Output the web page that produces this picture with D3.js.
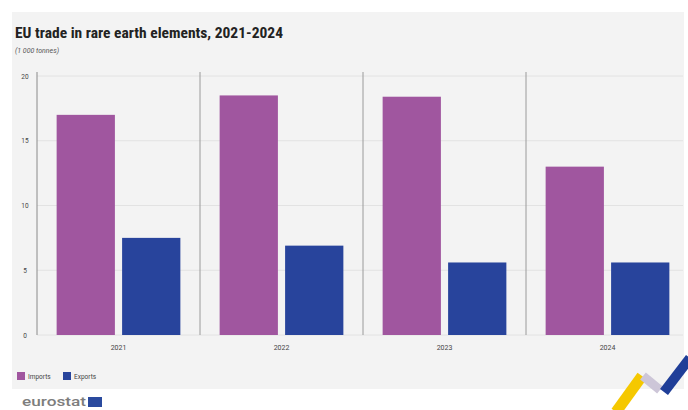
<!DOCTYPE html>
<html><head><meta charset="utf-8">
<script src="https://cdn.jsdelivr.net/npm/d3@7"></script>
<style>body{margin:0;background:#fff}svg{display:block}</style>
</head><body><svg id="c" width="688" height="410"></svg>
<script>
const years = ["2021", "2022", "2023", "2024"];
const seriesNames = ["Imports", "Exports"];
const imports = [17.0, 18.5, 18.4, 13.0];
const exports = [7.5, 6.9, 5.6, 5.6];
const yTicks = [0, 5, 10, 15, 20];
const colors = ["#a0569f", "#28449c"];

const svg = d3.select("#c");
svg.append("rect").attr("x", 12).attr("y", 12).attr("width", 672).attr("height", 377).attr("fill", "#f3f3f3");

svg.append("text").attr("x", 15).attr("y", 38).attr("font-family", "Liberation Sans Narrow, Roboto Condensed, Roboto, sans-serif")
  .attr("font-weight", "bold").attr("font-size", 15.5).attr("fill", "#222").attr("textLength", 268).attr("lengthAdjust", "spacingAndGlyphs")
  .text("EU trade in rare earth elements, 2021-2024");
svg.append("text").attr("x", 15).attr("y", 53).attr("font-family", "Roboto, sans-serif").attr("font-style", "italic")
  .attr("font-size", 7).attr("fill", "#555").text("(1 000 tonnes)");

const m = {l: 37, r: 689, t: 76, b: 335};
const y = d3.scaleLinear().domain([0, 20]).range([m.b, m.t]);
const x0 = d3.scaleBand().domain(years).range([m.l, m.r]).padding(0);
const x1 = d3.scaleBand().domain(seriesNames).range([0, x0.bandwidth()]).paddingInner(0.11).paddingOuter(0.3);

// grid
svg.append("g").selectAll("line").data(yTicks).join("line")
  .attr("x1", m.l).attr("x2", 683).attr("y1", d => y(d)).attr("y2", d => y(d))
  .attr("stroke", "#e2e2e2").attr("stroke-width", 1);

// panel separators
svg.append("g").selectAll("line").data(years.slice(1)).join("line")
  .attr("x1", d => x0(d)).attr("x2", d => x0(d)).attr("y1", m.t - 4).attr("y2", m.b)
  .attr("stroke", "#9a9a9a").attr("stroke-width", 1);
svg.append("line").attr("x1", m.l).attr("x2", m.l).attr("y1", m.t - 4).attr("y2", m.b)
  .attr("stroke", "#8a8a8a");

// y axis labels
const yAxis = d3.axisLeft(y).tickValues(yTicks).tickSize(0).tickPadding(0).tickFormat(d3.format("d"));
const ya = svg.append("g").attr("transform", `translate(${m.l - 12},0)`).call(yAxis);
ya.select(".domain").remove();
ya.selectAll("text").attr("font-family", "Roboto, sans-serif").attr("font-size", 6.5).attr("fill", "#444").attr("text-anchor", "middle");

// x axis labels
const xAxis = d3.axisBottom(x0).tickSize(0).tickPadding(10);
const xa = svg.append("g").attr("transform", `translate(0,${m.b})`).call(xAxis);
xa.select(".domain").remove();
xa.selectAll("text").attr("font-family", "Roboto, sans-serif").attr("font-size", 7).attr("fill", "#444");

// bars
const data = years.map((yr, i) => ({year: yr, values: [imports[i], exports[i]]}));
const g = svg.append("g").selectAll("g").data(data).join("g").attr("transform", d => `translate(${x0(d.year)},0)`);
g.selectAll("rect").data(d => d.values.map((v, j) => ({name: seriesNames[j], v, j}))).join("rect")
  .attr("x", d => x1(d.name)).attr("width", x1.bandwidth())
  .attr("y", d => y(d.v)).attr("height", d => y(0) - y(d.v))
  .attr("fill", d => colors[d.j]);

// legend
const lg = svg.append("g").attr("transform", "translate(17,372)");
seriesNames.forEach((n, i) => {
  const gx = i * 46;
  lg.append("rect").attr("x", gx).attr("y", 0).attr("width", 8).attr("height", 8).attr("fill", colors[i]);
  lg.append("text").attr("x", gx + 11).attr("y", 7).attr("font-family", "Roboto, sans-serif").attr("font-size", 6.5).attr("fill", "#444").text(n);
});

// footer eurostat
svg.append("text").attr("x", 22).attr("y", 406).attr("font-family", "Roboto, sans-serif").attr("font-size", 13.5).attr("font-weight", "500")
  .attr("fill", "#7d7d7d").attr("textLength", 64).attr("lengthAdjust", "spacingAndGlyphs").text("eurostat");
svg.append("rect").attr("x", 88).attr("y", 397).attr("width", 14).attr("height", 10).attr("fill", "#2a4a9e");

// swoosh
svg.append("line").attr("x1", 616).attr("y1", 412).attr("x2", 642).attr("y2", 376).attr("stroke", "#f5c800").attr("stroke-width", 11);
svg.append("line").attr("x1", 643).attr("y1", 376).attr("x2", 660).attr("y2", 390).attr("stroke", "#cdc6d8").attr("stroke-width", 9);
svg.append("line").attr("x1", 664).attr("y1", 392).attr("x2", 690).attr("y2", 358).attr("stroke", "#1f3e98").attr("stroke-width", 10);
</script></body></html>
